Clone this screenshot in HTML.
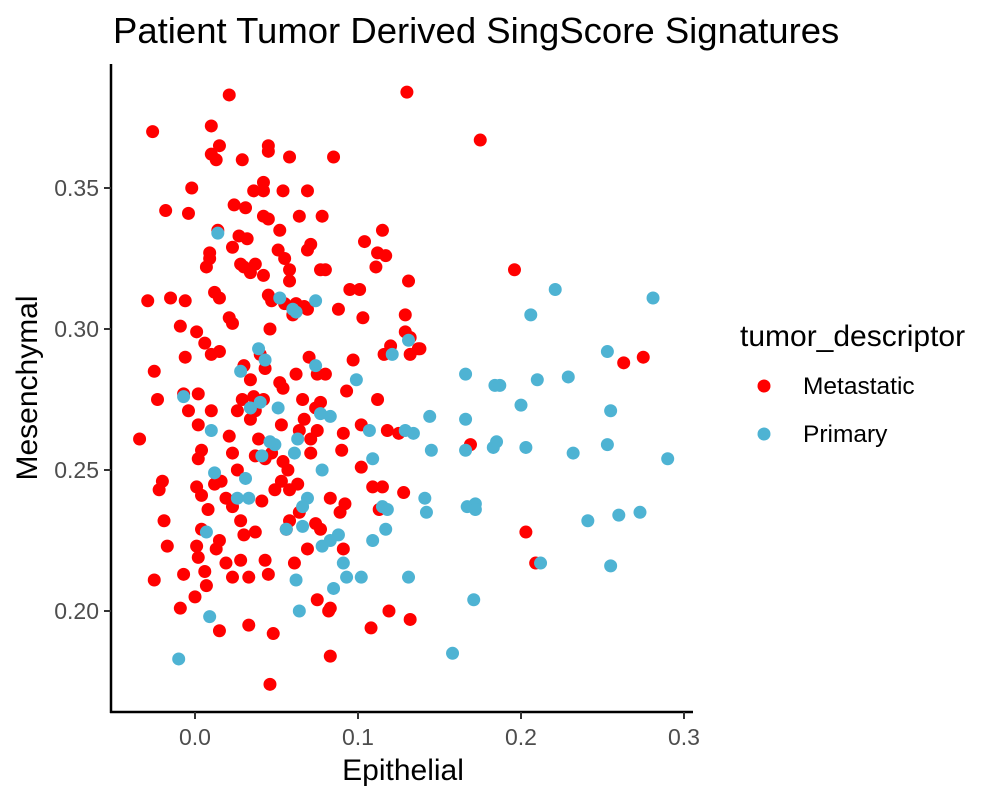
<!DOCTYPE html>
<html><head><meta charset="utf-8"><style>
body{margin:0;background:#fff;}
svg text{font-family:"Liberation Sans",Arial,sans-serif;}
</style></head><body>
<svg id="chart" width="1000" height="800">
<text x="113" y="43" font-size="36.5" fill="#000">Patient Tumor Derived SingScore Signatures</text>
<g id="points"></g>
<g id="axes"></g>
<text x="403" y="780" font-size="30" text-anchor="middle" fill="#000">Epithelial</text>
<text transform="translate(37,388) rotate(-90)" font-size="30" text-anchor="middle" fill="#000">Mesenchymal</text>
<g>
<text x="740" y="346" font-size="30" fill="#000">tumor_descriptor</text>
<circle cx="764" cy="386" r="6.5" fill="#ff0000"></circle>
<text x="803" y="394" font-size="24.5" fill="#000">Metastatic</text>
<circle cx="764" cy="434" r="6.5" fill="#4eb3d3"></circle>
<text x="803" y="442" font-size="24.5" fill="#000">Primary</text>
</g>
</svg>
<script>
const xTicks=[0.0,0.1,0.2,0.3];
const xTickLabels=["0.0","0.1","0.2","0.3"];
const yTicks=[0.20,0.25,0.30,0.35];
const yTickLabels=["0.20","0.25","0.30","0.35"];
const primaryX=[.014,-.007,-.010,.009,.007,.010,.012,.034,.041,.031,.026,.033,.049,.051,.052,.062,.060,.074,.077,.074,.078,.083,.069,.066,.056,.061,.063,.046,.043,.040,.028,.039,.064,.062,.066,.078,.083,.088,.091,.085,.093,.102,.099,.107,.109,.109,.115,.117,.118,.121,.131,.134,.141,.144,.145,.131,.142,.129,.158,.166,.166,.166,.167,.172,.172,.171,.184,.187,.183,.185,.200,.203,.206,.210,.212,.221,.229,.232,.241,.253,.255,.253,.255,.260,.273,.281,.290];
const primaryY=[.334,.276,.183,.198,.228,.264,.249,.272,.255,.247,.240,.240,.259,.272,.311,.306,.307,.310,.270,.287,.250,.269,.240,.230,.229,.256,.261,.260,.289,.274,.285,.293,.200,.211,.237,.223,.225,.227,.217,.208,.212,.212,.282,.264,.225,.254,.237,.229,.236,.291,.296,.263,.240,.269,.257,.212,.235,.264,.185,.284,.268,.257,.237,.238,.236,.204,.280,.280,.258,.260,.273,.258,.305,.282,.217,.314,.283,.256,.232,.292,.271,.259,.216,.234,.235,.311,.254];
const metaX=[-.026,.021,.010,.015,.010,.013,-.002,-.018,-.004,.029,.024,.031,.045,.045,.042,.042,.042,.045,.036,.058,.054,.069,.078,.085,.064,.071,.069,.077,.080,.032,.023,.028,.030,.034,.042,.051,.055,.058,.058,.045,.047,.055,.062,.060,.069,.067,.088,.101,.104,.112,.115,.111,.095,.103,.117,.131,.175,.130,.196,.129,.129,.132,.137,.040,.007,.009,.009,.014,.012,.015,.021,.023,-.006,-.015,-.009,.001,.006,.010,.015,-.029,-.025,-.034,-.020,-.022,-.023,-.006,-.007,.002,.010,-.004,.002,.004,.002,.001,.004,.008,.004,.012,.016,.019,.021,.023,.026,.029,.034,.030,.036,.037,.042,.043,.052,.054,.053,.054,.049,.047,.039,.026,.023,.028,.030,.037,.043,.045,.056,.058,.053,.057,.063,.071,.071,.074,.075,.070,.062,.066,.077,.080,.091,.090,.091,.089,.077,.074,.064,.061,.069,.075,.082,.083,.083,.048,.033,.015,-.009,.000,.007,-.007,-.017,-.019,-.025,.001,.015,.019,.023,.041,.043,.093,.097,.112,.116,.120,.109,.113,.115,.128,.119,.108,.132,.132,.118,.125,.138,.102,.169,.203,.209,.263,.275,.046,.033,.013,.002,.006,.028,.034,.037,.058,.067,.075,.083,.092,.102,.064,.046,.052,.027,.037];
const metaY=[.370,.383,.372,.365,.362,.360,.350,.342,.341,.360,.344,.343,.365,.363,.352,.349,.340,.339,.349,.361,.349,.349,.340,.361,.340,.330,.328,.321,.321,.332,.329,.323,.322,.320,.319,.328,.325,.321,.317,.312,.310,.309,.309,.305,.307,.308,.307,.314,.331,.327,.335,.322,.314,.304,.326,.317,.367,.384,.321,.305,.299,.297,.293,.291,.322,.325,.327,.335,.313,.311,.304,.302,.310,.311,.301,.299,.295,.291,.292,.310,.285,.261,.246,.243,.275,.290,.277,.277,.271,.271,.266,.257,.254,.244,.241,.236,.229,.245,.246,.240,.262,.256,.271,.275,.282,.287,.276,.271,.275,.286,.281,.279,.266,.253,.243,.256,.261,.250,.237,.232,.227,.228,.218,.213,.229,.232,.246,.250,.245,.256,.261,.272,.284,.290,.284,.275,.274,.284,.263,.257,.222,.235,.229,.231,.235,.217,.222,.204,.200,.201,.184,.192,.195,.193,.201,.205,.209,.213,.223,.232,.211,.223,.225,.217,.212,.239,.254,.278,.289,.275,.291,.294,.244,.236,.244,.242,.200,.194,.197,.291,.264,.263,.293,.266,.259,.228,.217,.288,.290,.174,.212,.222,.219,.214,.218,.268,.255,.243,.268,.264,.240,.238,.251,.264,.300,.335,.333,.323];
const NS="http://www.w3.org/2000/svg";
const sx=v=>195+(v-0)*1630;
const sy=v=>188-(v-0.35)*2820;
const pts=document.getElementById('points');
function dot(x,y,c,n){const e=document.createElementNS(NS,'circle');e.setAttribute('cx',sx(x));e.setAttribute('cy',sy(y));e.setAttribute('r',6.5);e.setAttribute('fill',c);


pts.appendChild(e);}
for(let i=0;i<metaX.length;i++)dot(metaX[i],metaY[i],'#ff0000','point-metastatic');
for(let i=0;i<primaryX.length;i++)dot(primaryX[i],primaryY[i],'#4eb3d3','point-primary');
const ax=document.getElementById('axes');
function el(t,a){const e=document.createElementNS(NS,t);for(const k in a)e.setAttribute(k,a[k]);ax.appendChild(e);return e;}
let l=el('line',{x1:111,y1:64,x2:111,y2:713,stroke:'#000','stroke-width':2.5});


l=el('line',{x1:110,y1:712,x2:693,y2:712,stroke:'#000','stroke-width':2.5});


xTicks.forEach((v,i)=>{
 const t=el('line',{x1:sx(v),y1:712,x2:sx(v),y2:719,stroke:'#333','stroke-width':2});
 
 
 const tx=el('text',{x:sx(v),y:745,'font-size':23,'text-anchor':'middle',fill:'#4d4d4d'});
 tx.textContent=xTickLabels[i];
 
 
});
yTicks.forEach((v,i)=>{
 const t=el('line',{x1:104,y1:sy(v),x2:111,y2:sy(v),stroke:'#333','stroke-width':2});
 
 
 const tx=el('text',{x:99,y:sy(v)+8,'font-size':23,'text-anchor':'end',fill:'#4d4d4d'});
 tx.textContent=yTickLabels[i];
 
 
});
</script>
</body></html>
